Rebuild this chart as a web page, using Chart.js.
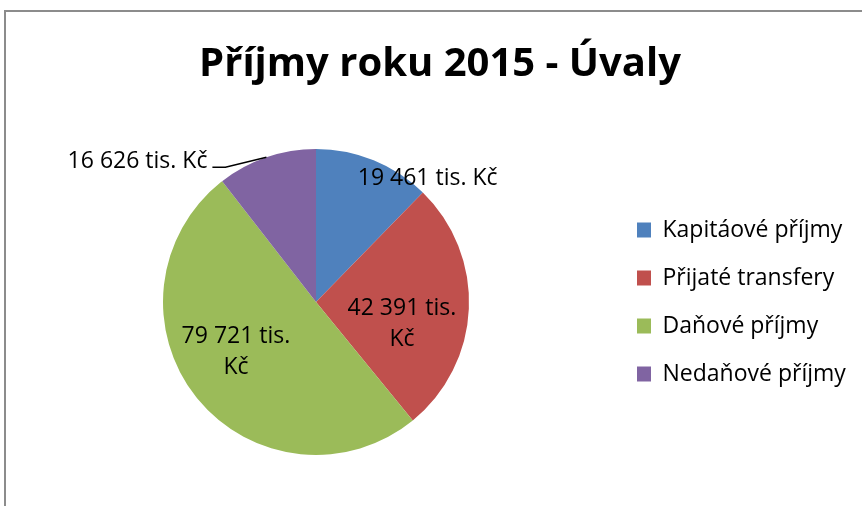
<!DOCTYPE html>
<html><head><meta charset="utf-8">
<script src="https://cdn.jsdelivr.net/npm/chart.js@4"></script>
<style>
html,body{margin:0;padding:0;background:#fff;}
#wrap{position:relative;width:862px;height:506px;overflow:hidden;background:#fff;}
#frame{position:absolute;left:4px;top:10px;width:900px;height:600px;border-left:2px solid #8c8c8c;border-top:2px solid #8c8c8c;}
canvas{position:absolute;left:0;top:0;}
</style></head><body>
<div id="wrap"><div id="frame"></div><canvas id="c" width="862" height="506"></canvas></div>
<script>
const titleText = 'Příjmy roku 2015 - Úvaly';
const categories = ['Kapitáové příjmy', 'Přijaté transfery', 'Daňové příjmy', 'Nedaňové příjmy'];
const values = [19461, 42391, 79721, 16626];
const unitSuffix = ' tis. Kč';
const colors = ['#4F81BD', '#C0504D', '#9BBB59', '#8064A2'];

function fmt(v) { return String(v).replace(/\B(?=(\d{3})+(?!\d))/g, ' '); }

const legendWidthPlugin = {
  id: 'legendWidth',
  beforeLayout(chart, args, opts) {
    const lg = chart.legend;
    if (lg && !lg._wPatched) {
      const orig = lg.fit;
      lg.fit = function () { orig.call(this); this.width = opts.width; };
      lg._wPatched = true;
    }
  }
};

const sliceLabels = {
  id: 'sliceLabels',
  afterDatasetsDraw(chart, args, opts) {
    const meta = chart.getDatasetMeta(0);
    const ctx = chart.ctx;
    ctx.save();
    ctx.font = opts.font;
    ctx.fillStyle = '#000';
    ctx.strokeStyle = '#000';
    ctx.textBaseline = 'middle';
    meta.data.forEach((arc, i) => {
      const a = arc.getProps(['x', 'y', 'startAngle', 'endAngle', 'outerRadius'], true);
      const mid = (a.startAngle + a.endAngle) / 2;
      const p = opts.placement[i];
      const text = fmt(values[i]) + unitSuffix;
      if (p.outside) {
        const ex = a.x + a.outerRadius * Math.cos(mid);
        const ey = a.y + a.outerRadius * Math.sin(mid);
        const bx = ex + p.dx1, by = ey + p.dy1;
        const fx = bx + p.dx2;
        ctx.lineWidth = 1.4;
        ctx.beginPath();
        ctx.moveTo(ex, ey); ctx.lineTo(bx, by); ctx.lineTo(fx, by);
        ctx.stroke();
        ctx.textAlign = 'right';
        ctx.fillText(text, fx + p.gap, by + p.ty);
      } else {
        const ang = mid + p.turn * Math.PI / 180;
        const r = a.outerRadius * p.r;
        const cx = a.x + r * Math.cos(ang);
        const cy = a.y + r * Math.sin(ang);
        ctx.textAlign = 'center';
        let lines = [text];
        if (p.wrap) {
          const k = text.lastIndexOf(' ');
          lines = [text.slice(0, k), text.slice(k + 1)];
        }
        const lh = opts.lineHeight;
        lines.forEach((ln, j) => {
          ctx.fillText(ln, cx, cy + (j - (lines.length - 1) / 2) * lh);
        });
      }
    });
    ctx.restore();
  }
};

new Chart(document.getElementById('c'), {
  type: 'pie',
  data: {
    labels: categories,
    datasets: [{
      data: values,
      backgroundColor: colors,
      borderWidth: 0,
      radius: 153
    }]
  },
  options: {
    responsive: false,
    animation: false,
    events: [],
    layout: { padding: { left: 20, right: 2, top: 0, bottom: 20 } },
    plugins: {
      title: {
        display: true,
        text: titleText,
        color: '#000',
        font: { family: 'Open Sans', size: 40, weight: 'bold', lineHeight: 1.2 },
        padding: { top: 41, bottom: 29 }
      },
      legend: {
        position: 'right',
        align: 'center',
        fullSize: false,
        labels: {
          color: '#000',
          font: { family: 'Open Sans', size: 23 },
          boxWidth: 14,
          boxHeight: 15,
          padding: 25
        }
      },
      tooltip: { enabled: false },
      legendWidth: { width: 248 },
      sliceLabels: {
        font: '23px "Open Sans"',
        lineHeight: 31,
        placement: [
          { r: 1.09, turn: 19.9 },
          { r: 0.579, turn: 11.5, wrap: true },
          { r: 0.617, turn: 6.5, wrap: true },
          { outside: true, dx1: -41, dy1: 10, dx2: -13, gap: -5, ty: -6 }
        ]
      }
    }
  },
  plugins: [legendWidthPlugin, sliceLabels]
});
</script>
</body></html>
